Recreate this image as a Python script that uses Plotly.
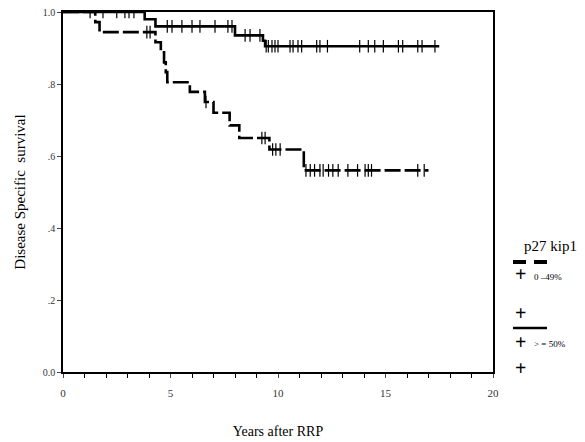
import numpy as np
import plotly.graph_objects as go

# Kaplan-Meier step data: years after RRP vs disease specific survival
hi_times = [0, 3.8, 4.3, 8.0, 9.3, 9.4, 17.5]          # p27 kip1 >= 50%
hi_surv = [1.0, 0.98, 0.96, 0.935, 0.92, 0.905, 0.905]
hi_censor = [1.26, 1.86, 2.5, 2.88, 3.07, 3.3, 4.85, 5.07, 5.53, 6.0, 6.37,
             7.07, 7.67, 7.86, 8.47, 8.7, 9.16, 9.45, 9.55, 9.72, 9.86, 10.0,
             10.56, 10.7, 10.93, 11.1, 11.8, 11.95, 12.3, 13.8, 14.2, 14.5,
             14.9, 15.6, 15.8, 16.5, 16.7, 17.3]

lo_times = [0, 1.5, 1.7, 4.3, 4.55, 4.7, 4.78, 4.85, 5.9, 6.6, 7.0, 7.75,
            8.2, 9.6, 11.2, 17.0]                          # p27 kip1 0-49%
lo_surv = [1.0, 0.972, 0.944, 0.916, 0.888, 0.86, 0.833, 0.805, 0.778, 0.75,
           0.72, 0.685, 0.65, 0.618, 0.56, 0.56]
lo_censor = [3.9, 4.05, 6.65, 9.25, 9.4, 9.75, 9.9, 10.1, 11.3, 11.5, 11.7,
             11.95, 12.1, 12.35, 12.55, 12.8, 13.25, 13.7, 14.05, 14.2, 14.35,
             16.5, 16.8]

x_ticks = [0, 5, 10, 15, 20]
y_ticks = [0.0, 0.2, 0.4, 0.6, 0.8, 1.0]
y_tick_text = ["0.0", ".2", ".4", ".6", ".8", "1.0"]


def level_at(times, surv, t):
    idx = np.searchsorted(np.asarray(times), np.asarray(t), side="right") - 1
    return np.asarray(surv)[idx]


SERIF = "Liberation Serif"
fig = go.Figure()

fig.add_trace(go.Scatter(x=hi_times, y=hi_surv, mode="lines", line_shape="hv",
                         line=dict(color="black", width=2.6), showlegend=False))
fig.add_trace(go.Scatter(x=lo_times, y=lo_surv, mode="lines", line_shape="hv",
                         line=dict(color="black", width=2.6, dash="16px,4px"),
                         showlegend=False))
fig.add_trace(go.Scatter(x=hi_censor, y=level_at(hi_times, hi_surv, hi_censor),
                         mode="markers",
                         marker=dict(symbol="line-ns", size=9,
                                     line=dict(color="black", width=1.2)),
                         showlegend=False))
fig.add_trace(go.Scatter(x=lo_censor, y=level_at(lo_times, lo_surv, lo_censor),
                         mode="markers",
                         marker=dict(symbol="line-ns", size=9,
                                     line=dict(color="black", width=1.2)),
                         showlegend=False))

# hand-drawn key at the right of the plot (paper coordinates)
W, H = 430.0, 360.0


def px(x):
    return (x - 63) / W


def py(y):
    return (372 - y) / H


shapes = [
    dict(type="line", xref="paper", yref="paper", x0=px(513), x1=px(526),
         y0=py(262), y1=py(262), line=dict(color="black", width=4)),
    dict(type="line", xref="paper", yref="paper", x0=px(534), x1=px(547),
         y0=py(262), y1=py(262), line=dict(color="black", width=4)),
    dict(type="line", xref="paper", yref="paper", x0=px(513), x1=px(547),
         y0=py(328), y1=py(328), line=dict(color="black", width=2.5)),
]

annotations = [
    dict(text="p27 kip1", x=px(550), y=py(246), font=dict(size=15)),
    dict(text="<b>+</b>", x=px(520), y=py(274), font=dict(size=20)),
    dict(text="0 –49%", x=px(532), y=py(277), xanchor="left", font=dict(size=9)),
    dict(text="<b>+</b>", x=px(520), y=py(313), font=dict(size=20)),
    dict(text="<b>+</b>", x=px(520), y=py(342), font=dict(size=20)),
    dict(text="> = 50%", x=px(532), y=py(344), xanchor="left", font=dict(size=9)),
    dict(text="<b>+</b>", x=px(520), y=py(368), font=dict(size=20)),
]
for a in annotations:
    a.update(xref="paper", yref="paper", showarrow=False, yanchor="middle")
    a.setdefault("xanchor", "center")
    a["font"].update(family=SERIF, color="black")

fig.update_layout(
    width=585, height=442,
    margin=dict(l=63, r=92, t=12, b=70),
    plot_bgcolor="white", paper_bgcolor="white",
    font=dict(family=SERIF, color="black"),
    shapes=shapes, annotations=annotations,
    xaxis=dict(range=[0, 20], tickvals=x_ticks, ticks="outside", ticklen=4,
               minor=dict(dtick=1, ticks="outside", ticklen=4, tickcolor="black"),
               ticklabelstandoff=6, automargin=False,
               tickfont=dict(size=11, color="#333"), showgrid=False, zeroline=False,
               showline=True, linecolor="black", linewidth=1.5, mirror=True,
               title=dict(text="Years after RRP", font=dict(size=14), standoff=28)),
    yaxis=dict(range=[0, 1], tickvals=y_ticks, ticktext=y_tick_text,
               ticks="outside", ticklen=4, tickfont=dict(size=10, color="#333"),
               automargin=False,
               showgrid=False, zeroline=False, showline=True, linecolor="black",
               linewidth=1.5, mirror=True,
               title=dict(text="Disease Specific  survival", font=dict(size=15),
                          standoff=14)),
)

fig.write_html("out.html")
